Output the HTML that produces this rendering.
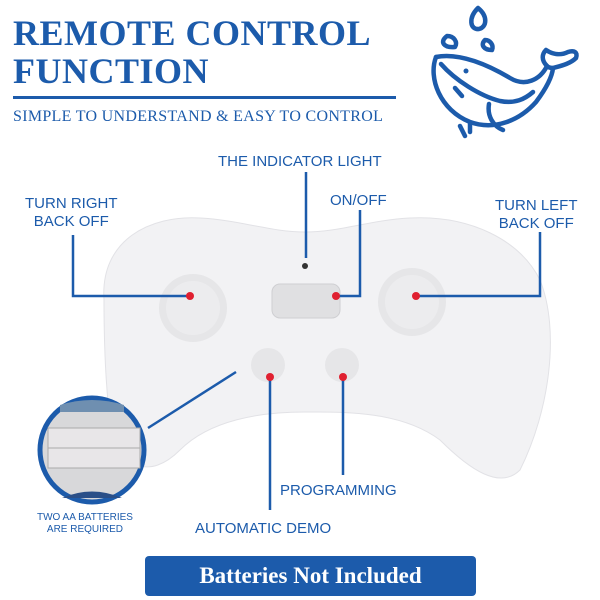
<!DOCTYPE html>
<html><head><style>
body{margin:0;width:600px;height:600px;background:#fff;position:relative;overflow:hidden;font-family:"Liberation Sans",sans-serif}
.t{position:absolute;color:#1c5bab;white-space:nowrap}
</style></head><body>
<div class="t" style="left:13px;top:14px;font:bold 36px/38px 'Liberation Serif',serif;letter-spacing:0.5px">REMOTE CONTROL<br>FUNCTION</div>
<div style="position:absolute;left:13px;top:96px;width:383px;height:3px;background:#1c5bab"></div>
<div class="t" style="left:13px;top:108px;font:16px 'Liberation Serif',serif;letter-spacing:.3px">SIMPLE TO UNDERSTAND &amp; EASY TO CONTROL</div>
<svg width="600" height="600" style="position:absolute;left:0;top:0">
<g fill="none" stroke="#1c5bab" stroke-width="4.5" stroke-linecap="round" stroke-linejoin="round">
<path d="M436 57 C460 52 490 66 510 78 C525 87 540 80 547 66"/>
<path d="M547 66 C541 60 542 54 546 50 C552 54 560 56 568 52 C574 50 578 52 576 58 C570 64 560 66 553 68 C550 68 548 67 547 66"/>
<path d="M436 57 C428 78 440 110 470 122 C495 131 520 120 536 102 C545 90 552 78 553 68"/>
<path d="M441 64 C455 80 480 96 500 101 C515 104 525 99 533 92"/>
<path d="M489 104 C487 116 493 126 503 130"/>
<path d="M455 88 L462 96"/>
<path d="M460 126 L465 136 M470 124 L470 132"/>
<path d="M478 8 C468 18 470 30 479 29 C487 27 488 16 478 8Z"/>
<path d="M447 36 C439 42 444 48 455 47 C458 42 454 36 447 36Z"/>
<path d="M485 40 C480 45 484 50 492 50 C494 45 490 40 485 40Z"/>
</g>
<circle cx="466" cy="71" r="2.5" fill="#1c5bab"/>
<path d="M104 300 C100 240 150 215 200 218 C240 220 270 232 305 232 C340 232 370 220 410 218 C470 215 520 240 540 280 C560 330 550 410 520 470 C500 490 470 470 440 440 C400 410 340 412 305 412 C260 412 210 420 180 450 C150 480 120 470 110 420 C105 380 104 340 104 300Z" fill="#f2f2f4" stroke="#e2e2e6"/>
<circle cx="193" cy="308" r="34" fill="#e6e6e8"/><circle cx="193" cy="308" r="27" fill="#ececee"/>
<circle cx="412" cy="302" r="34" fill="#e6e6e8"/><circle cx="412" cy="302" r="27" fill="#ececee"/>
<rect x="272" y="284" width="68" height="34" rx="8" fill="#e0e0e2" stroke="#cfcfd2"/>
<circle cx="268" cy="365" r="17" fill="#e6e6e8"/><circle cx="342" cy="365" r="17" fill="#e6e6e8"/>
<circle cx="305" cy="266" r="3" fill="#333"/>
<g stroke="#1c5bab" stroke-width="2.5" fill="none">
<path d="M73 235 V296 H190"/><path d="M306 172 V258"/><path d="M360 210 V296 H336"/>
<path d="M540 232 V296 H416"/><path d="M343 377 V475"/><path d="M270 377 V510"/>
<path d="M148 428 L236 372"/>
</g>
<g fill="#e02030"><circle cx="190" cy="296" r="4"/><circle cx="336" cy="296" r="4"/><circle cx="416" cy="296" r="4"/><circle cx="270" cy="377" r="4"/><circle cx="343" cy="377" r="4"/></g>
<circle cx="92" cy="450" r="52" fill="#d8d8da" stroke="#1c5bab" stroke-width="5"/>
<rect x="48" y="428" width="92" height="40" fill="#e8e6e8" stroke="#aaa"/>
<line x1="48" y1="448" x2="140" y2="448" stroke="#aaa"/>
<path d="M62 498 Q92 485 122 498" fill="#2a4f88"/>
<path d="M60 405 Q92 395 124 405 L124 412 L60 412Z" fill="#6f8fb0"/>
</svg>
<div class="t" style="left:218px;top:153px;font-size:15px">THE INDICATOR LIGHT</div>
<div class="t" style="left:25px;top:195px;font-size:15px;text-align:center;line-height:18px">TURN RIGHT<br>BACK OFF</div>
<div class="t" style="left:330px;top:192px;font-size:15px">ON/OFF</div>
<div class="t" style="left:495px;top:197px;font-size:15px;text-align:center;line-height:18px">TURN LEFT<br>BACK OFF</div>
<div class="t" style="left:280px;top:482px;font-size:15px">PROGRAMMING</div>
<div class="t" style="left:195px;top:520px;font-size:15px">AUTOMATIC DEMO</div>
<div class="t" style="left:37px;top:512px;font-size:10px;text-align:center;line-height:12px">TWO AA BATTERIES<br>ARE REQUIRED</div>
<div style="position:absolute;left:145px;top:556px;width:331px;height:40px;background:#1c5bab;border-radius:4px;color:#fff;font:bold 23px/40px 'Liberation Serif',serif;text-align:center">Batteries Not Included</div>
</body></html>
